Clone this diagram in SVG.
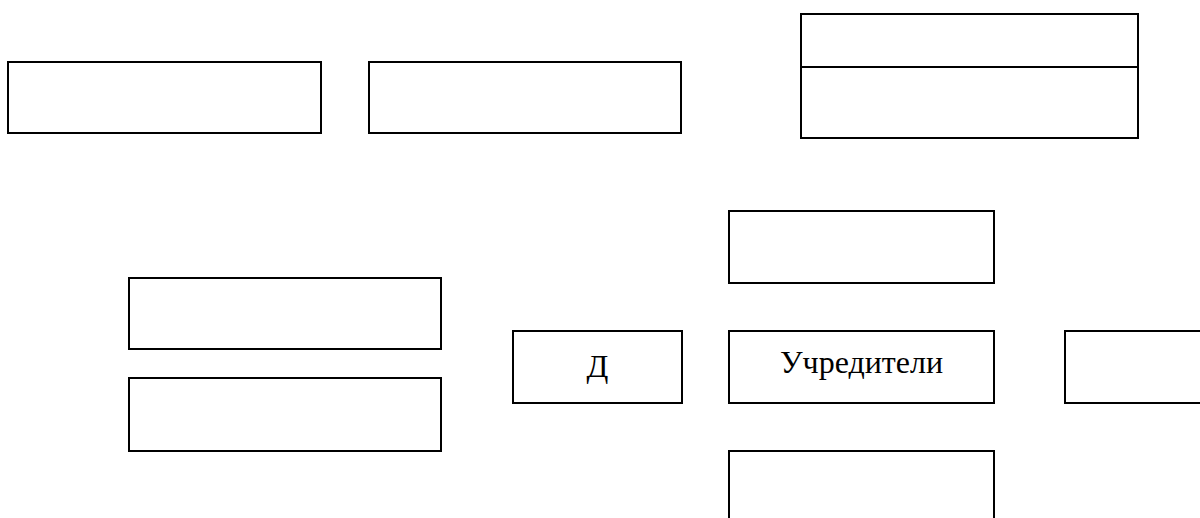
<svg xmlns="http://www.w3.org/2000/svg" width="1200" height="518" viewBox="0 0 1200 518">
<style>
.box{fill:#fff;stroke:#000;stroke-width:2}
.lbl{font-family:"Liberation Serif","Times New Roman",serif;font-size:32px;fill:#000;text-anchor:middle}
</style>
<rect x="0" y="0" width="1200" height="518" fill="#fff"/>
<g id="connectors"/>
<g id="n1"><rect class="box" x="8" y="62" width="313" height="71"/></g>
<g id="n2"><rect class="box" x="369" y="62" width="312" height="71"/></g>
<g id="n3"><rect class="box" x="801" y="14" width="337" height="72"/></g>
<g id="n4"><rect class="box" x="801" y="67" width="337" height="71"/></g>
<g id="n5"><rect class="box" x="729" y="211" width="265" height="72"/></g>
<g id="n6"><rect class="box" x="129" y="278" width="312" height="71"/></g>
<g id="n7"><rect class="box" x="129" y="378" width="312" height="73"/></g>
<g id="n8"><rect class="box" x="513" y="331" width="169" height="72"/><text class="lbl" x="597.5" y="377">Д</text></g>
<g id="n9"><rect class="box" x="729" y="331" width="265" height="72"/><text class="lbl" x="861.5" y="373">Учредители</text></g>
<g id="n10"><rect class="box" x="1065" y="331" width="150" height="72"/></g>
<g id="n11"><rect class="box" x="729" y="451" width="265" height="90"/></g>
</svg>
